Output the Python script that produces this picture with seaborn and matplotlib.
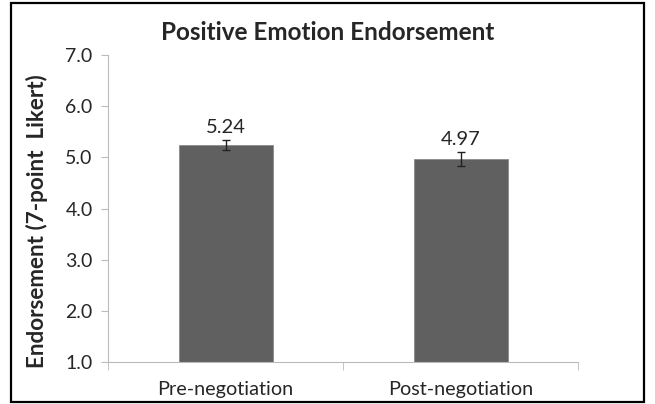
import matplotlib
matplotlib.use("Agg")
import matplotlib.pyplot as plt
import seaborn as sns
import pandas as pd
from matplotlib.patches import Rectangle

categories = ["Pre-negotiation", "Post-negotiation"]
means = [5.24, 4.97]
errors = [0.10, 0.13]
value_labels = ["5.24", "4.97"]
yticks = [1.0, 2.0, 3.0, 4.0, 5.0, 6.0, 7.0]

sns.set_style("white")
plt.rcParams['font.family'] = ['Lato', 'DejaVu Sans']

df = pd.DataFrame({"cat": categories, "val": means})

fig = plt.figure(figsize=(6.55, 4.04), dpi=100)
ax = fig.add_axes([108/655, 1-362/404, (578-108)/655, (362-55)/404])

sns.barplot(data=df, x="cat", y="val", color="#606060", saturation=1,
            width=0.4, errorbar=None, ax=ax)
for p in ax.patches:
    h = p.get_height()
    p.set_y(1.0)
    p.set_height(h - 1.0)
    p.set_edgecolor("#8a8a8a")
    p.set_linewidth(0.6)

ax.errorbar(range(len(means)), means, yerr=errors, fmt="none",
            ecolor="#222222", elinewidth=1, capsize=3, capthick=1)
for i, (m, e, lab) in enumerate(zip(means, errors, value_labels)):
    ax.annotate(lab, (i, m + e), xytext=(0, 3), textcoords="offset points",
                ha="center", va="bottom", fontsize=14.5)

ax.set_ylim(1.0, 7.0)
ax.set_xlim(-0.5, 1.5)
ax.set_yticks(yticks)
ax.set_yticklabels([f"{t:.1f}" for t in yticks], fontsize=14)
ax.set_xticks(range(len(categories)))
ax.set_xticklabels(categories, fontsize=14.3)
ax.set_xticks([-0.5, 0.5, 1.5], minor=True)
ax.tick_params(axis="x", which="major", length=0, pad=14)
ax.tick_params(axis="x", which="minor", length=6, color="#bbbbbb", direction="out", bottom=True)
ax.tick_params(axis="y", length=5, color="#bbbbbb", direction="out", left=True, pad=6)
ax.set_xlabel("")
ax.set_ylabel("Endorsement (7-point  Likert)", fontsize=16.2, fontweight="bold")
ax.yaxis.set_label_coords(-0.128, 0.46)

for s in ["top", "right"]:
    ax.spines[s].set_visible(False)
for s in ["left", "bottom"]:
    ax.spines[s].set_color("#bbbbbb")
    ax.spines[s].set_linewidth(0.8)

fig.text(0.5, 1-32/404, "Positive Emotion Endorsement", ha="center", va="center",
         fontsize=17.5, fontweight="bold")

fig.patches.append(Rectangle((11/655, 2/404), (644-11)/655, (401-2)/404,
                             transform=fig.transFigure, fill=False,
                             edgecolor="black", linewidth=1.6))

fig.savefig("out.png", dpi=100)
